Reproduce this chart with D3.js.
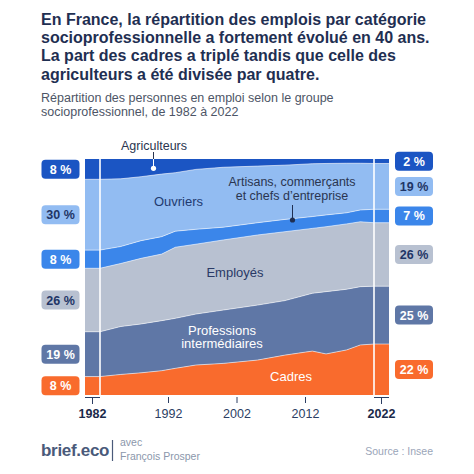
<!DOCTYPE html>
<html>
<head>
<meta charset="utf-8">
<script src="https://cdn.jsdelivr.net/npm/d3@7"></script>
<style>
  html, body { margin: 0; padding: 0; background: #fff; }
  svg { display: block; font-family: "Liberation Sans", Arial, sans-serif; }
</style>
</head>
<body>
<svg id="chart" width="474" height="474"></svg>
<script>
// ========= Data (shares in %)
const years      = [1982, 1985, 1988, 1991, 1993, 1996, 2000, 2005, 2009, 2013, 2015, 2018, 2020, 2022];
const cadres     = [7.8, 8.7, 9.4, 10.3, 11.3, 12.7, 13.4, 14.8, 16.9, 18.6, 17.4, 19.1, 21.2, 21.6];
const profInter  = [19.0, 20.3, 20.7, 21.2, 21.2, 21.6, 22.6, 23.3, 23.1, 24.5, 26.4, 25.7, 24.7, 24.5];
const employes   = [26.9, 26.7, 27.8, 28.2, 30.1, 29.6, 29.7, 29.7, 29.2, 27.5, 27.5, 27.7, 27.5, 26.9];
const artisans   = [7.7, 7.2, 7.5, 7.4, 6.8, 6.3, 5.4, 5.2, 5.2, 5.0, 5.0, 4.7, 5.0, 5.7];
const ouvriers   = [30.0, 28.7, 27.1, 26.5, 24.8, 25.4, 25.4, 24.0, 23.0, 22.4, 21.8, 21.0, 19.8, 19.4];
const agri       = [8.6, 8.4, 7.5, 6.4, 5.8, 4.4, 3.5, 3.0, 2.6, 2.0, 1.9, 1.8, 1.8, 1.9];

const keys = ["cadres", "profInter", "employes", "artisans", "ouvriers", "agri"];
const labels1982 = ["8 %", "19 %", "26 %", "8 %", "30 %", "8 %"];
const labels2022 = ["22 %", "25 %", "26 %", "7 %", "19 %", "2 %"];
const tickYears = [1992, 2002, 2012];

const colors = {
    cadres: "#f96b2d",
    profInter: "#5f77a6",
    employes: "#b8c1d1",
    artisans: "#3b86ea",
    ouvriers: "#92bcf2",
    agri: "#1b55c3"
};
const badgeText = {
    cadres: "#fff", profInter: "#fff", employes: "#1f3566",
    artisans: "#fff", ouvriers: "#1f3566", agri: "#fff"
};

const rows = years.map((y, i) => ({
    year: y,
    cadres: cadres[i], profInter: profInter[i], employes: employes[i],
    artisans: artisans[i], ouvriers: ouvriers[i], agri: agri[i]
}));

// ========= Setup
const svg = d3.select("#chart");
const navy = "#1f2f52";

svg.append("rect").attr("width", 474).attr("height", 474).attr("fill", "#fff");

// Title
const title = svg.append("text")
    .attr("font-weight", "bold")
    .attr("font-size", 16)
    .attr("fill", navy);
["En France, la répartition des emplois par catégorie",
 "socioprofessionnelle a fortement évolué en 40 ans.",
 "La part des cadres a triplé tandis que celle des",
 "agriculteurs a été divisée par quatre."].forEach((t, i) => {
    title.append("tspan").attr("x", 41).attr("y", 25 + i * 18.2).text(t);
});

const sub = svg.append("text")
    .attr("font-size", 12.5)
    .attr("fill", "#4d5566");
["Répartition des personnes en emploi selon le groupe",
 "socioprofessionnel, de 1982 à 2022"].forEach((t, i) => {
    sub.append("tspan").attr("x", 41).attr("y", 102 + i * 14).text(t);
});

// ========= Scales
const x = d3.scaleLinear().domain([1982, 2022]).range([100, 374]);
const y = d3.scaleLinear().domain([0, 1]).range([395, 159]);
const ext = 15; // flat extension at both ends

const series = d3.stack()
    .keys(keys)
    .offset(d3.stackOffsetExpand)(rows);

const area = d3.area()
    .x(d => x(d.data.year))
    .y0(d => y(d[0]))
    .y1(d => y(d[1]));

const plot = svg.append("g");

series.forEach(s => {
    plot.append("path")
        .datum(s)
        .attr("fill", colors[s.key])
        .attr("d", area);
    // end extensions
    const first = s[0], last = s[s.length - 1];
    plot.append("rect")
        .attr("x", x(1982) - ext).attr("width", ext)
        .attr("y", y(first[1])).attr("height", y(first[0]) - y(first[1]))
        .attr("fill", colors[s.key]);
    plot.append("rect")
        .attr("x", x(2022)).attr("width", ext)
        .attr("y", y(last[1])).attr("height", y(last[0]) - y(last[1]))
        .attr("fill", colors[s.key]);
});

// light separators between bands
const sepLine = d3.line()
    .x(d => x(d.data.year))
    .y(d => y(d[1]));
series.slice(0, -1).forEach(s => {
    plot.append("path")
        .datum(s)
        .attr("fill", "none")
        .attr("stroke", "#fff")
        .attr("stroke-opacity", 0.55)
        .attr("stroke-width", 1)
        .attr("d", d => `M${x(1982) - ext},${y(d[0][1])}L` + sepLine(d).slice(1) + `L${x(2022) + ext},${y(d[d.length - 1][1])}`);
});

// white vertical lines at 1982 and 2022
[1982, 2022].forEach(yr => {
    plot.append("line")
        .attr("x1", x(yr)).attr("x2", x(yr))
        .attr("y1", y(1)).attr("y2", y(0))
        .attr("stroke", "#fff").attr("stroke-width", 1.6);
});

// ========= Badges
function badge(cx, cy, key, label) {
    const g = svg.append("g");
    g.append("rect")
        .attr("x", cx - 19).attr("y", cy - 9.5)
        .attr("width", 38).attr("height", 19)
        .attr("rx", 4)
        .attr("fill", colors[key]);
    g.append("text")
        .attr("x", cx).attr("y", cy + 4.5)
        .attr("text-anchor", "middle")
        .attr("font-weight", "bold")
        .attr("font-size", 12.5)
        .attr("fill", badgeText[key])
        .text(label);
}
series.forEach((s, i) => {
    const a = s[0], b = s[s.length - 1];
    badge(60.5, (y(a[0]) + y(a[1])) / 2, s.key, labels1982[i]);
    badge(414, (y(b[0]) + y(b[1])) / 2, s.key, labels2022[i]);
});

// ========= Axis
const axis = svg.append("g").attr("stroke", "#2c3e63");
tickYears.forEach(t => {
    axis.append("line").attr("x1", x(t)).attr("x2", x(t)).attr("y1", 397).attr("y2", 403).attr("stroke-width", 1);
    svg.append("text").attr("x", x(t)).attr("y", 418).attr("text-anchor", "middle")
        .attr("font-size", 12.5).attr("fill", "#2c3e63").text(t);
});
[[1982, x(1982) - ext, x(1982)], [2022, x(2022), x(2022) + ext]].forEach(([t, a, b]) => {
    const m = (a + b) / 2;
    axis.append("line").attr("x1", a).attr("x2", b).attr("y1", 397.5).attr("y2", 397.5).attr("stroke-width", 1);
    axis.append("line").attr("x1", m).attr("x2", m).attr("y1", 397.5).attr("y2", 404).attr("stroke-width", 1);
    svg.append("text").attr("x", m).attr("y", 418).attr("text-anchor", "middle")
        .attr("font-size", 12.5).attr("font-weight", "bold").attr("fill", "#1b2a4a").text(t);
});

// ========= Annotations
const ann = svg.append("g").attr("font-size", 12.5).attr("text-anchor", "middle");
ann.append("text").attr("x", 154).attr("y", 149.5).attr("fill", "#2a3550").text("Agriculteurs");
ann.append("line").attr("x1", 153.5).attr("x2", 153.5).attr("y1", 152).attr("y2", 159).attr("stroke", "#2a3550");
ann.append("line").attr("x1", 153.5).attr("x2", 153.5).attr("y1", 159).attr("y2", 168).attr("stroke", "#fff");
ann.append("circle").attr("cx", 153.5).attr("cy", 168.3).attr("r", 2.6).attr("fill", "#fff");

ann.append("text").attr("x", 178.5).attr("y", 206).attr("fill", "#1f3a70").attr("font-size", 13).text("Ouvriers");

ann.append("text").attr("x", 292).attr("y", 186).attr("fill", "#2a3550").text("Artisans, commerçants");
ann.append("text").attr("x", 292).attr("y", 200).attr("fill", "#2a3550").text("et chefs d’entreprise");
ann.append("line").attr("x1", 292.5).attr("x2", 292.5).attr("y1", 205).attr("y2", 220).attr("stroke", "#1f2f52");
ann.append("circle").attr("cx", 292.5).attr("cy", 220).attr("r", 2.6).attr("fill", "#1f2f52");

ann.append("text").attr("x", 235).attr("y", 277).attr("fill", "#2a3a66").attr("font-size", 13).text("Employés");

ann.append("text").attr("x", 222).attr("y", 334.5).attr("fill", "#fff").attr("font-size", 13).text("Professions");
ann.append("text").attr("x", 222).attr("y", 348).attr("fill", "#fff").attr("font-size", 13).text("intermédiaires");

ann.append("text").attr("x", 291).attr("y", 380.5).attr("fill", "#fff").attr("font-size", 13).text("Cadres");

// ========= Footer
svg.append("text").attr("x", 41).attr("y", 456).attr("font-size", 17).attr("font-weight", "bold")
    .attr("letter-spacing", -0.3).attr("fill", "#4a5a7a").text("brief.eco");
svg.append("line").attr("x1", 112.5).attr("x2", 112.5).attr("y1", 440).attr("y2", 461)
    .attr("stroke", "#4a5a7a").attr("stroke-width", 1.2);
svg.append("text").attr("x", 120).attr("y", 446).attr("font-size", 10.5).attr("fill", "#8b97ab").text("avec");
svg.append("text").attr("x", 120).attr("y", 460).attr("font-size", 10.5).attr("fill", "#8b97ab").text("François Prosper");
svg.append("text").attr("x", 433).attr("y", 454.5).attr("text-anchor", "end").attr("font-size", 10.5)
    .attr("fill", "#9aa5b8").text("Source : Insee");
</script>
</body>
</html>
